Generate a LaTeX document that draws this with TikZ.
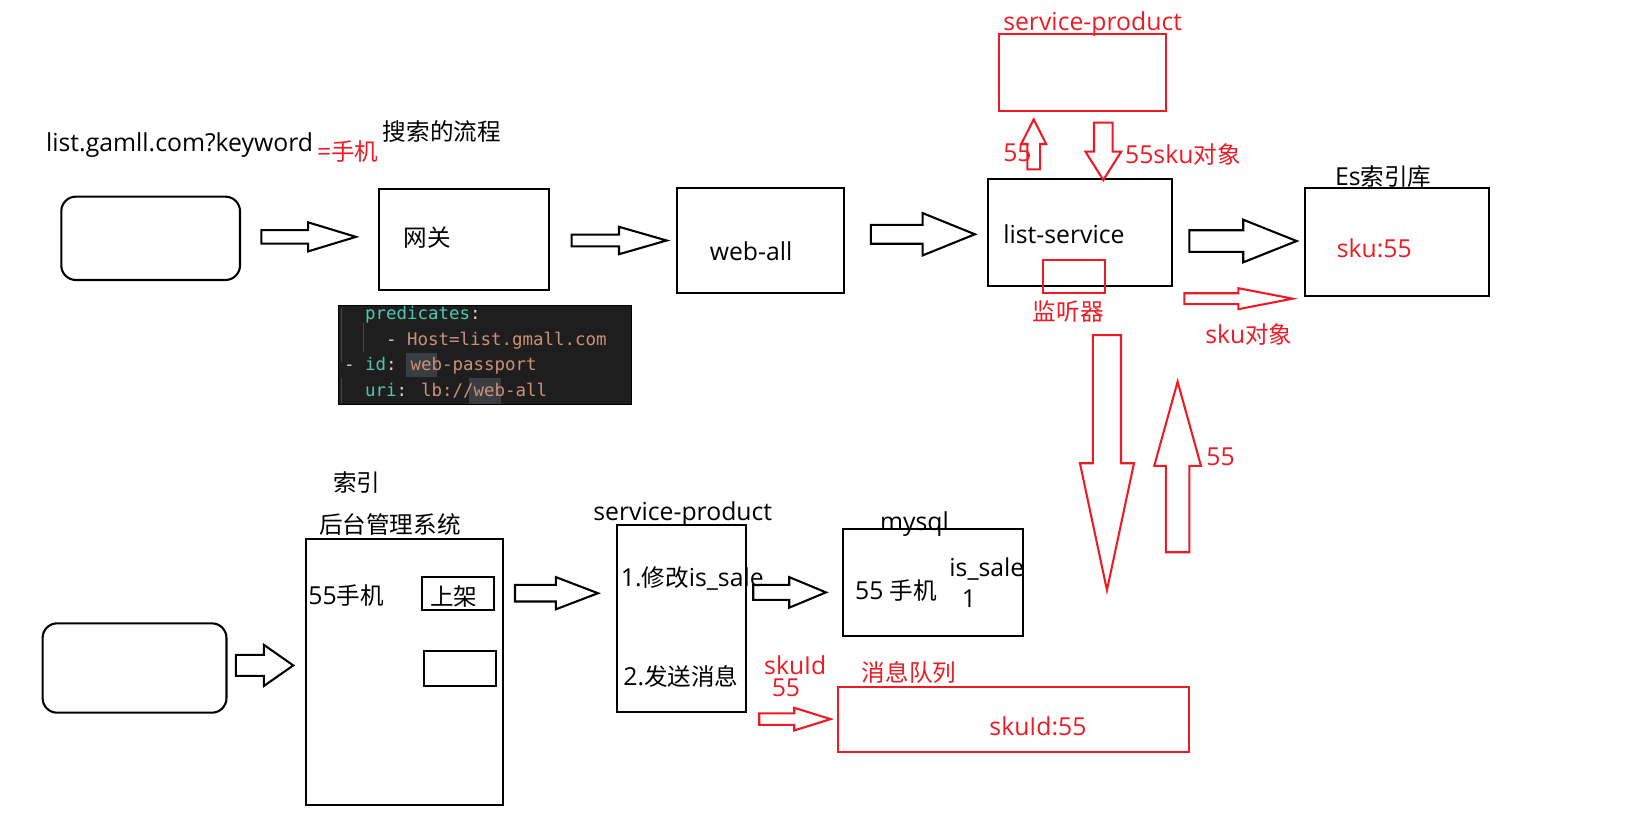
\documentclass[tikz,border=0pt]{standalone}
\usepackage{fontspec}
\setmainfont{Open Sans}[Scale=1.05]
\newfontfamily\cjk{Noto Sans CJK SC}
\newfontfamily\codefont{DejaVu Sans Mono}
\usepackage{tikz}
\usetikzlibrary{positioning}
\definecolor{mred}{RGB}{237,28,36}
\definecolor{codebg}{RGB}{30,30,30}
\definecolor{ckey}{RGB}{78,201,176}
\definecolor{cstr}{RGB}{206,145,120}
\definecolor{cpunct}{RGB}{212,212,212}
\definecolor{chl}{RGB}{58,61,65}
\definecolor{cguide}{RGB}{70,70,70}
\tikzset{
    lbl/.style={
        inner sep=0pt,
        anchor=west,
        yshift=-4.5pt,
        text height=0.8em,
        text depth=0.1em,
        font=\fontsize{22.7}{27}\selectfont
    },
    redlbl/.style={lbl, text=mred},
    % boxes
    boxb/.style={draw=black, line width=2pt, inner sep=0pt},
    boxr/.style={draw=mred, line width=2pt, inner sep=0pt},
    codeline/.style={
        inner sep=0pt,
        anchor=west,
        yshift=-3pt,
        text height=0.75em,
        text depth=0.2em,
        text=cpunct,
        font=\codefont\fontsize{16.8}{20}\selectfont
    },
    % hollow block arrows
    fatarrow/.style={draw=black, line width=2pt, line join=miter},
    fatarrowr/.style={fatarrow, draw=mred}
}
% x start, head start, tip, y, half shaft, half head
\newcommand{\fatharrow}[7][fatarrow]{%
    \draw[#1] (#2,#5-#6) -- (#3,#5-#6) -- (#3,#5-#7) -- (#4,#5)
        -- (#3,#5+#7) -- (#3,#5+#6) -- (#2,#5+#6) -- cycle;}
% x, tail y, head base y, tip y, half shaft, half head
\newcommand{\fatvarrow}[7][fatarrowr]{%
    \draw[#1] (#2-#6,#3) -- (#2-#6,#4) -- (#2-#7,#4) -- (#2,#5)
        -- (#2+#7,#4) -- (#2+#6,#4) -- (#2+#6,#3) -- cycle;}

\begin{document}
\begin{tikzpicture}[x=1pt, y=-1pt]
	\fill[white] (0,0) rectangle (1568,799);
	\useasboundingbox (0,0) rectangle (1568,799);

	% top row
	\node[lbl] (url) at (44.2,138) {list.gamll.com?keyword};
	\node[redlbl] (kw) at (305,146) {=\cjk 手机};
	\node[lbl] (title) at (368.4,126.7) {\cjk 搜索的流程};

	\node[boxb, rounded corners=14pt, minimum width=172pt, minimum height=80.2pt] (client) at (145,229.4) {};
	\node[boxb, minimum width=163pt, minimum height=96.8pt] (gw) at (446.5,230.6) {};
	\node[lbl] (gwtext) at (388.6,229.4) {\cjk 网关};
	\node[boxb, minimum width=161pt, minimum height=100.4pt] (web) at (731.8,231.5) {};
	\node[lbl, anchor=center] (webtext) at (723,242.2) {web-all};
	\node[boxb, minimum width=176.4pt, minimum height=103pt] (list) at (1039.5,223.8) {};
	\node[lbl] (listtext) at (965.5,226.2) {list-service};
	\node[boxr, minimum width=59.4pt, minimum height=31.4pt] (listener) at (1033.9,266) {};
	\node[redlbl] (listenertext) at (994,300) {\cjk 监听器};
	\node[boxb, minimum width=177.5pt, minimum height=103.3pt] (es) at (1344.75,232.95) {};
	\node[lbl] (estitle) at (1285,170) {Es\cjk 索引库};
	\node[redlbl] (estext) at (1286.6,240) {sku:55};

	\fatharrow{251.6}{296.5}{342.6}{228}{6.5}{14}
	\fatharrow{550.2}{595.8}{641.7}{231.5}{5.6}{13.2}
	\fatharrow{838.3}{888}{938.4}{225.5}{9.1}{20.4}
	\fatharrow{1144.8}{1196.7}{1248.1}{232}{10.4}{20.5}
	\fatharrow[fatarrowr]{1140}{1192}{1244.2}{287.5}{5.2}{10.1}
	\node[redlbl] (skuobj) at (1160,322.4) {sku\cjk 对象};

	% service-product above
	\node[redlbl] (sptitle) at (965.5,20.9) {service-product};
	\node[boxr, minimum width=160.3pt, minimum height=73.8pt] (sptop) at (1042.05,69.9) {};
	\fatvarrow{995}{163}{138.6}{114.9}{6.1}{12}
	\fatvarrow{1062}{118}{146}{173.3}{9}{17.2}
	\node[redlbl] (upnum) at (965.5,147) {55};
	\node[redlbl] (downtext) at (1082.8,149.2) {55sku\cjk 对象};

	% gateway config
	\node[fill=codebg, draw=black, line width=0.8pt, minimum width=282.4pt, minimum height=95.6pt, inner sep=0pt] (code) at (466.8,341.4) {};
	\fill[chl] (390.8,340) rectangle (420.9,363);
	\fill[chl] (451.7,364) rectangle (481.9,389);
	\draw[cguide, line width=1pt] (329,296) -- (329,348);
	\draw[cguide, line width=1pt] (329,364) -- (329,388);
	\draw[cguide, line width=1pt] (349.7,311) -- (349.7,339);
	\node[codeline] (code1) at (351.2,301.6) {\textcolor{ckey}{predicates}:};
	\node[codeline] (code2) at (371.4,326.6) {- \textcolor{cstr}{Host=list.gmall.com}};
	\node[codeline] (code3) at (331,350.4) {- \textcolor{ckey}{id}: \textcolor{cstr}{web-passport}};
	\node[codeline] (code4) at (351.2,375.4) {\textcolor{ckey}{uri}: \textcolor{cstr}{lb://web-all}};

	% listener flow
	\fatvarrow{1065.5}{322.5}{445.9}{568}{13.5}{26}
	\fatvarrow{1133.5}{531.6}{448.5}{367.4}{11.25}{22.5}
	\node[redlbl] (backnum) at (1161,439.6) {55};

	% bottom row
	\node[lbl] (idx) at (320.6,465) {\cjk 索引};
	\node[lbl] (admin) at (307,505) {\cjk 后台管理系统};
	\node[boxb, rounded corners=14pt, minimum width=177pt, minimum height=86pt] (user) at (129.5,643) {};
	\node[boxb, minimum width=189.3pt, minimum height=256pt] (back) at (389.15,646.8) {};
	\node[lbl] (item) at (296.7,573.6) {55\cjk 手机};
	\node[boxb, minimum width=70pt, minimum height=32pt] (onsale) at (440.8,571) {};
	\node[lbl] (onsaletext) at (413.9,575) {\cjk 上架};
	\node[boxb, minimum width=69.9pt, minimum height=33pt] (offsale) at (442.75,643.5) {};

	\node[lbl] (spbtitle) at (571,492.5) {service-product};
	\node[boxb, minimum width=124.5pt, minimum height=180.3pt] (spbot) at (655.75,595.45) {};
	\node[lbl] (step1) at (597.4,556.6) {1.{\cjk 修改}is\_sale};
	\node[lbl] (step2) at (599.8,651.3) {2.{\cjk 发送消息}};

	\node[lbl] (dbtitle) at (847,502) {mysql};
	\node[boxb, minimum width=173.3pt, minimum height=102.7pt] (db) at (898.35,560.85) {};
	\node[lbl] (dbrow) at (823,568.5) {55 {\cjk 手机}};
	\node[lbl] (dbcol) at (913.7,547) {is\_sale};
	\node[lbl] (dbval) at (925.6,576.8) {1};

	\node[redlbl] (msgid) at (735.4,640.7) {skuId};
	\node[redlbl] (msgnum) at (742.7,662.5) {55};
	\node[redlbl] (mqtitle) at (829.4,648) {\cjk 消息队列};
	\node[boxr, minimum width=338.5pt, minimum height=62.5pt] (mq) at (975.45,692.85) {};
	\node[redlbl] (mqtext) at (952.2,699.4) {skuId:55};

	\fatharrow{227}{254}{282.3}{640.5}{10.1}{19.8}
	\fatharrow{495.7}{535}{575.6}{571}{8}{15.5}
	\fatharrow{725}{759.7}{795}{570.2}{7.2}{14.7}
	\fatharrow[fatarrowr]{730.8}{764.5}{799.5}{692.2}{5.6}{10.9}
\end{tikzpicture}
\end{document}
